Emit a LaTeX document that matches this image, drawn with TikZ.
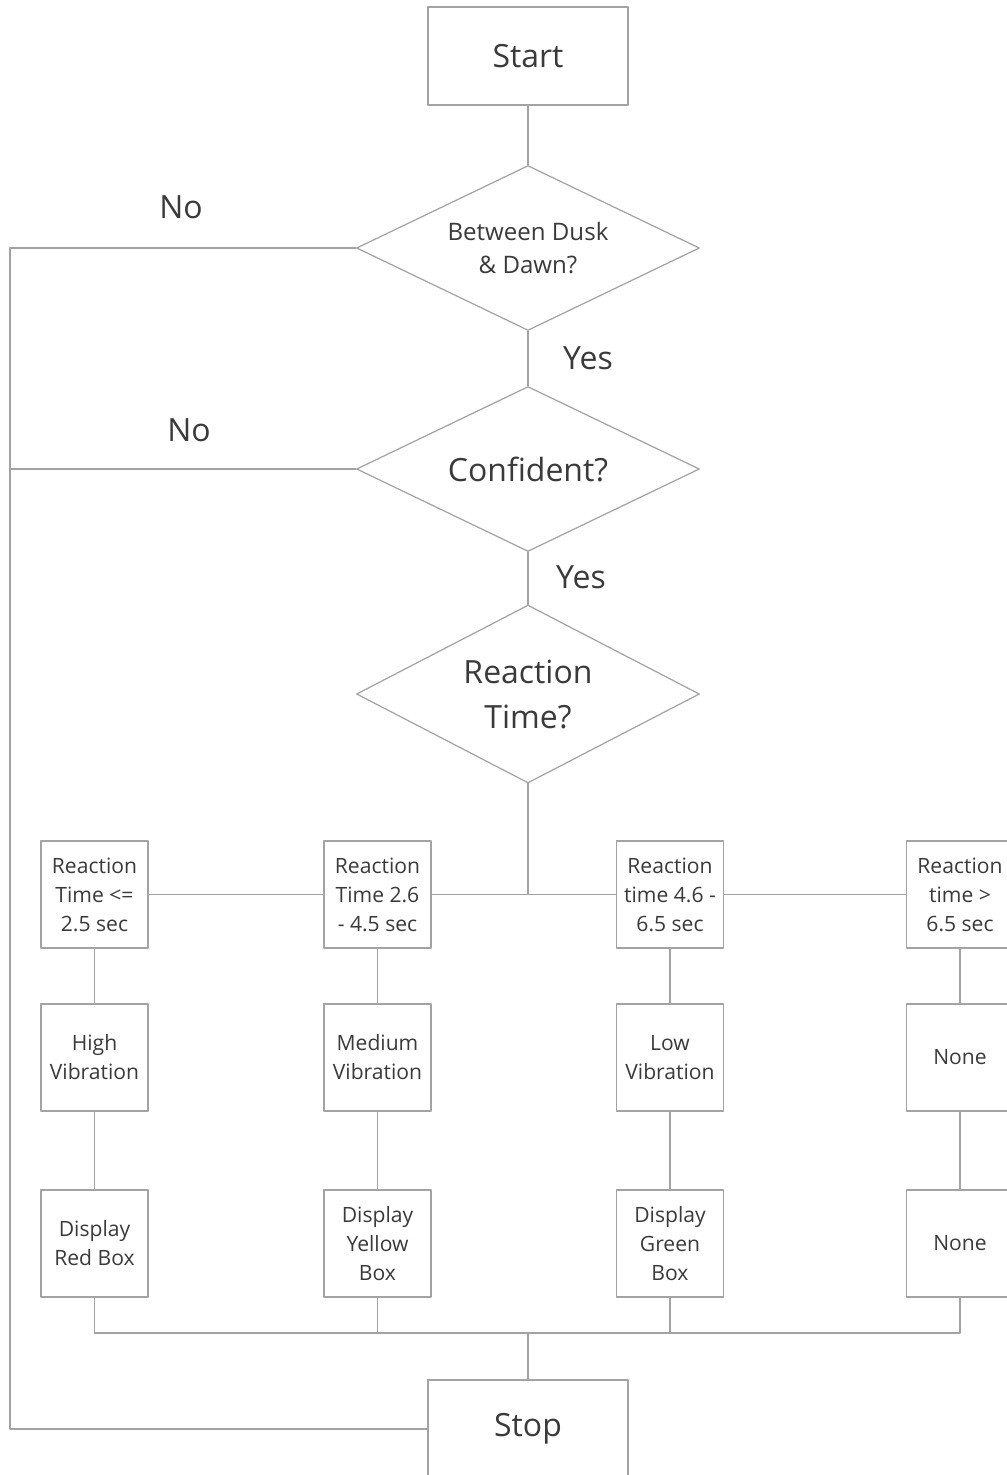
\documentclass[tikz,border=0pt]{standalone}
\usepackage{fontspec}
\setmainfont{Open Sans}
\usepackage{xcolor}
\usepackage{tikz}
\usetikzlibrary{positioning,calc,shapes.geometric,arrows.meta}

\definecolor{lineGray}{HTML}{A3A3A3}
\definecolor{textGray}{HTML}{3A3A3A}

\begin{document}
\begin{tikzpicture}[x=0.02cm,y=-0.02cm, line cap=round,line join=round,
		textfont/.style={text=textGray, font=\fontsize{12}{16.5}\selectfont},
		midfont/.style={text=textGray, font=\fontsize{13.7}{18.8}\selectfont},
		bigfont/.style={text=textGray, font=\fontsize{18.2}{25.6}\selectfont},
		termbox/.style={draw=lineGray, line width=0.7pt, bigfont, minimum width=4cm, minimum height=1.96cm, inner sep=0pt},
		stepbox/.style={draw=lineGray, line width=0.7pt, textfont, align=center, minimum width=2.14cm, minimum height=2.14cm, inner sep=0pt},
		decision/.style={draw=lineGray, line width=0.7pt, diamond, aspect=2.08, align=center, minimum width=6.86cm, minimum height=3.3cm, inner sep=0pt},
		link/.style={draw=lineGray, line width=0.7pt},
		answer/.style={bigfont}]
				
				% ---- page frame (cut as in the original)
				\clip (0,0) rectangle (1007,1475);
				
				% ---- column centres
				\def\colA{94.5}
				\def\colB{377.5}
				\def\colC{670}
				\def\colD{960}
				
				% ---- top of the chart
				\node[termbox] (start) at (528,56) {Start};
				\node[decision, midfont] (dusk) at (528,248) {Between Dusk\\\& Dawn?};
				\node[decision, bigfont] (conf) at (528,469) {Confident?};
				\node[decision, bigfont, minimum height=3.56cm] (react) at (528,694) {Reaction\\Time?};
				
				\node[answer] (noA) at (181,207) {No};
				\node[answer] (yesA) at (588,358) {Yes};
				\node[answer] (noB) at (189,430) {No};
				\node[answer] (yesB) at (581,577) {Yes};
				
				% ---- the three rows of boxes
				\foreach \i/\xc/\txt in {1/\colA/{Reaction\\Time <=\\2.5 sec},
					2/\colB/{Reaction\\Time 2.6\\- 4.5 sec},
					3/\colC/{Reaction\\time 4.6 -\\6.5 sec},
					4/\colD/{Reaction\\time >\\6.5 sec}}{
					\node[stepbox] (r\i) at (\xc,894.5) {\txt};
				}
				\foreach \i/\xc/\txt in {1/\colA/{High\\Vibration},
					2/\colB/{Medium\\Vibration},
					3/\colC/{Low\\Vibration},
					4/\colD/{None}}{
					\node[stepbox] (v\i) at (\xc,1057.5) {\txt};
				}
				\foreach \i/\xc/\txt in {1/\colA/{Display\\Red Box},
					2/\colB/{Display\\Yellow\\Box},
					3/\colC/{Display\\Green\\Box},
					4/\colD/{None}}{
					\node[stepbox] (d\i) at (\xc,1243.5) {\txt};
				}
				
				\node[termbox] (stop) at (528,1429) {Stop};
				
				% ---- helper points
				\coordinate (rail) at (10,248);
				\coordinate (bus) at (528,1333);
				
				% ---- connectors
				\draw[link] (start) -- (dusk);
				\draw[link] (dusk) -- (conf);
				\draw[link] (conf) -- (react);
				\draw[link] (dusk.west) -- (rail) |- (stop.west);
				\draw[link] (conf.west) -- (conf.west -| rail);
				
				\draw[link] (react.south) -- (react.south |- r1.east);
				\draw[link] (r1.east) -- (r2.west);
				\draw[link] (r2.east) -- (r3.west);
				\draw[link] (r3.east) -- (r4.west);
				
				\foreach \i in {1,...,4}{
					\draw[link] (r\i) -- (v\i);
					\draw[link] (v\i) -- (d\i);
					\draw[link] (d\i.south) -- (d\i.south |- bus);
				}
				\draw[link] (d1.south |- bus) -- (d4.south |- bus);
				\draw[link] (bus) -- (stop);
				
			\end{tikzpicture}
\end{document}
